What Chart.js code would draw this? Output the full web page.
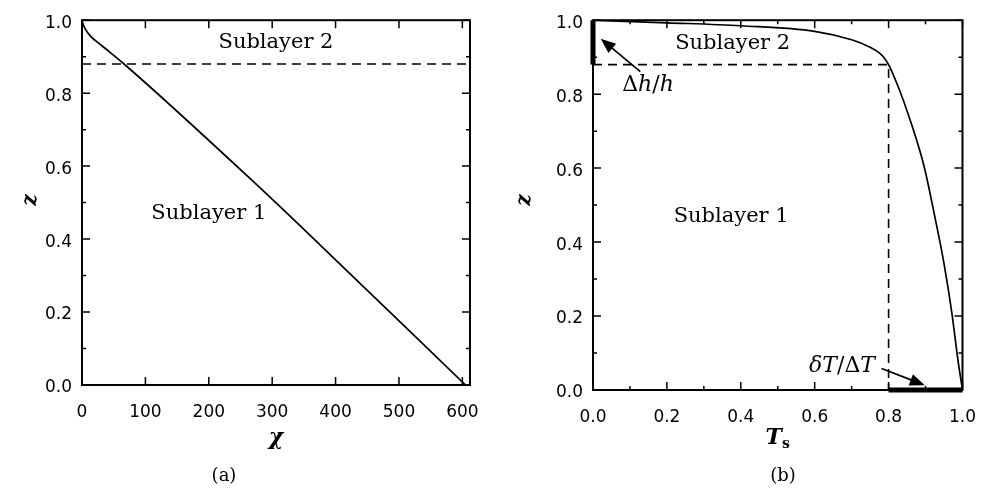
<!DOCTYPE html>
<html>
<head>
<meta charset="utf-8">
<script src="https://cdn.jsdelivr.net/npm/chart.js@4.4.0/dist/chart.umd.min.js"></script>
<style>
  body { margin: 0; background: #fff; }
  #wrap { position: relative; width: 993px; height: 490px; }
  canvas { position: absolute; top: 0; }
</style>
</head>
<body>
<div id="wrap">
  <canvas id="left" width="496" height="490" style="left:0"></canvas>
  <canvas id="right" width="497" height="490" style="left:496px"></canvas>
</div>
<script>
// panel (a): chi against z
const chiValues = [0, 1.5, 5, 13, 30, 65, 278, 375, 605];
const zLeft     = [1.0, 0.99, 0.976, 0.957, 0.932, 0.882, 0.545, 0.385, 0.0];
const chiTicks  = [0, 100, 200, 300, 400, 500, 600];
const chiMax    = 612;

// panel (b): T_s against z
const tsValues = [0, 0.2, 0.4, 0.6, 0.7, 0.75, 0.773, 0.785, 0.8, 0.83, 0.856, 0.896, 0.924, 0.95, 0.971, 0.988, 1.0];
const zRight   = [1.0, 0.993, 0.985, 0.97, 0.947, 0.927, 0.913, 0.902, 0.88, 0.81, 0.737, 0.605, 0.474, 0.342, 0.21, 0.079, 0.0];
const tsTicks  = [0, 0.2, 0.4, 0.6, 0.8, 1.0];

const zTicks = [0, 0.2, 0.4, 0.6, 0.8, 1.0];
const sublayerZ = 0.88;   // boundary between sublayers
const tsBoundary = 0.8;   // T_s at the boundary

const SANS = '"DejaVu Sans", sans-serif';
const SERIF = '"DejaVu Serif", serif';

function pts(xs, ys) { return xs.map((x, i) => ({ x: x, y: ys[i] })); }

// draw a string built from pieces with different fonts
function rich(ctx, parts, x, y) {
  let w = 0;
  parts.forEach(p => { ctx.font = p.f; w += ctx.measureText(p.t).width; });
  let cx = x - w / 2;
  ctx.textAlign = 'left';
  ctx.textBaseline = 'middle';
  parts.forEach(p => {
    ctx.font = p.f;
    ctx.fillText(p.t, cx, y + (p.dy || 0));
    cx += ctx.measureText(p.t).width;
  });
}

function arrow(ctx, x1, y1, x2, y2) {
  const a = Math.atan2(y2 - y1, x2 - x1);
  const L = 15, W = 6;
  ctx.beginPath();
  ctx.moveTo(x1, y1);
  ctx.lineTo(x2 - L * 0.8 * Math.cos(a), y2 - L * 0.8 * Math.sin(a));
  ctx.lineWidth = 1.7;
  ctx.stroke();
  ctx.beginPath();
  ctx.moveTo(x2, y2);
  ctx.lineTo(x2 - L * Math.cos(a) + W * Math.sin(a), y2 - L * Math.sin(a) - W * Math.cos(a));
  ctx.lineTo(x2 - L * Math.cos(a) - W * Math.sin(a), y2 - L * Math.sin(a) + W * Math.cos(a));
  ctx.closePath();
  ctx.fill();
}

// box with inward ticks on all four sides, like the IDL plot
const framePlugin = {
  id: 'frame',
  afterDatasetsDraw(chart, args, opts) {
    const ctx = chart.ctx, a = chart.chartArea;
    const xs = chart.scales.x, ys = chart.scales.y;
    ctx.save();
    ctx.strokeStyle = '#000';
    ctx.lineWidth = 2;
    ctx.strokeRect(a.left, a.top, a.right - a.left, a.bottom - a.top);
    ctx.lineWidth = 1.5;
    ctx.beginPath();
    opts.xMinor.forEach(v => {
      const major = opts.xMajor.some(m => Math.abs(m - v) < 1e-6);
      const len = major ? 8 : 4;
      const px = xs.getPixelForValue(v);
      ctx.moveTo(px, a.bottom); ctx.lineTo(px, a.bottom - len);
      ctx.moveTo(px, a.top); ctx.lineTo(px, a.top + len);
    });
    opts.yMinor.forEach(v => {
      const major = opts.yMajor.some(m => Math.abs(m - v) < 1e-6);
      const len = major ? 8 : 4;
      const py = ys.getPixelForValue(v);
      ctx.moveTo(a.left, py); ctx.lineTo(a.left + len, py);
      ctx.moveTo(a.right, py); ctx.lineTo(a.right - len, py);
    });
    ctx.stroke();
    ctx.restore();
  }
};

const notesPlugin = {
  id: 'notes',
  afterDraw(chart, args, opts) {
    const ctx = chart.ctx, xs = chart.scales.x, ys = chart.scales.y, a = chart.chartArea;
    ctx.save();
    ctx.fillStyle = '#000';
    ctx.strokeStyle = '#000';
    opts.texts.forEach(t => rich(ctx, t.parts, xs.getPixelForValue(t.x), ys.getPixelForValue(t.y)));
    (opts.arrows || []).forEach(r => arrow(ctx,
      xs.getPixelForValue(r[0]), ys.getPixelForValue(r[1]),
      xs.getPixelForValue(r[2]), ys.getPixelForValue(r[3])));
    // axis titles and panel caption
    const cx = (a.left + a.right) / 2;
    rich(ctx, opts.xTitle, cx, 438);
    rich(ctx, [{ t: opts.caption, f: '18px ' + SERIF }], opts.captionX, 476);
    ctx.translate(opts.zX, 200);
    ctx.rotate(-Math.PI / 2);
    rich(ctx, [{ t: 'z', f: 'italic bold 20px ' + SERIF }], 0, 0);
    ctx.restore();
  }
};

function tenths(n) { const r = []; for (let i = 0; i <= n; i++) r.push(+(i / 10).toFixed(1)); return r; }

function makeChart(id, cfg) {
  return new Chart(document.getElementById(id), {
    type: 'line',
    data: { datasets: cfg.datasets },
    plugins: [framePlugin, notesPlugin],
    options: {
      responsive: false,
      animation: false,
      layout: { padding: cfg.padding },
      plugins: {
        legend: { display: false },
        tooltip: { enabled: false },
        frame: cfg.frame,
        notes: cfg.notes
      },
      elements: { point: { radius: 0 }, line: { borderColor: '#000', borderWidth: 1.7 } },
      scales: {
        x: {
          type: 'linear', min: 0, max: cfg.xMax,
          afterBuildTicks: s => { s.ticks = cfg.xTicks.map(v => ({ value: v })); },
          afterFit: s => { s.height = cfg.xHeight; },
          grid: { display: false, drawTicks: false },
          border: { display: false },
          ticks: { color: '#000', padding: 17, maxRotation: 0, autoSkip: false,
                   font: { family: SANS, size: 17 }, callback: cfg.xFmt }
        },
        y: {
          type: 'linear', min: 0, max: 1,
          afterBuildTicks: s => { s.ticks = zTicks.map(v => ({ value: v })); },
          afterFit: s => { s.width = cfg.yWidth; },
          grid: { display: false, drawTicks: false },
          border: { display: false },
          ticks: { color: '#000', padding: 10, labelOffset: 3, autoSkip: false,
                   font: { family: SANS, size: 17 }, callback: v => v.toFixed(1) }
        }
      }
    }
  });
}

const sub2 = [{ t: 'Sublayer 2', f: '21px ' + SERIF }];
const sub1 = [{ t: 'Sublayer 1', f: '21px ' + SERIF }];
const dash = [9, 6];

makeChart('left', {
  xMax: chiMax, xTicks: chiTicks, xFmt: v => String(v),
  padding: { left: 0, top: 14, right: 21, bottom: 0 }, yWidth: 82, xHeight: 105,
  datasets: [
    { data: pts(chiValues, zLeft), cubicInterpolationMode: 'monotone' },
    { data: [{ x: 0, y: sublayerZ }, { x: chiMax, y: sublayerZ }], borderDash: dash, borderWidth: 1.6 }
  ],
  frame: { xMajor: chiTicks, xMinor: chiTicks, yMajor: zTicks, yMinor: tenths(10) },
  notes: {
    texts: [{ x: 306, y: 0.94, parts: sub2 }, { x: 200, y: 0.469, parts: sub1 }],
    xTitle: [{ t: 'χ', f: 'italic bold 22px ' + SERIF }],
    caption: '(a)', captionX: 224, zX: 31
  }
});

makeChart('right', {
  xMax: 1, xTicks: tsTicks, xFmt: v => v.toFixed(1),
  padding: { left: 0, top: 10, right: 16, bottom: 0 }, yWidth: 97, xHeight: 100,
  datasets: [
    { data: pts(tsValues, zRight), cubicInterpolationMode: 'monotone' },
    { data: [{ x: 0, y: sublayerZ }, { x: tsBoundary, y: sublayerZ }, { x: tsBoundary, y: 0 }],
      borderDash: dash, borderWidth: 1.6 },
    { data: [{ x: 0, y: sublayerZ }, { x: 0, y: 1 }], borderWidth: 5, clip: false },
    { data: [{ x: tsBoundary, y: 0 }, { x: 1, y: 0 }], borderWidth: 5, clip: false }
  ],
  frame: { xMajor: tsTicks, xMinor: tenths(10), yMajor: zTicks, yMinor: tenths(10) },
  notes: {
    texts: [
      { x: 0.378, y: 0.937, parts: sub2 },
      { x: 0.374, y: 0.468, parts: sub1 },
      { x: 0.149, y: 0.824, parts: [
        { t: 'Δ', f: '22px ' + SERIF }, { t: 'h', f: 'italic 22px ' + SERIF },
        { t: '/', f: '22px ' + SERIF }, { t: 'h', f: 'italic 22px ' + SERIF }] },
      { x: 0.674, y: 0.063, parts: [
        { t: 'δT', f: 'italic 22px ' + SERIF }, { t: '/', f: '22px ' + SERIF },
        { t: 'Δ', f: '22px ' + SERIF }, { t: 'T', f: 'italic 22px ' + SERIF }] }
    ],
    arrows: [[0.128, 0.861, 0.021, 0.95], [0.781, 0.058, 0.898, 0.013]],
    xTitle: [{ t: 'T', f: 'italic bold 22px ' + SERIF }, { t: 's', f: 'bold 14px ' + SERIF, dy: 6 }],
    caption: '(b)', captionX: 287, zX: 29
  }
});
</script>
</body>
</html>
